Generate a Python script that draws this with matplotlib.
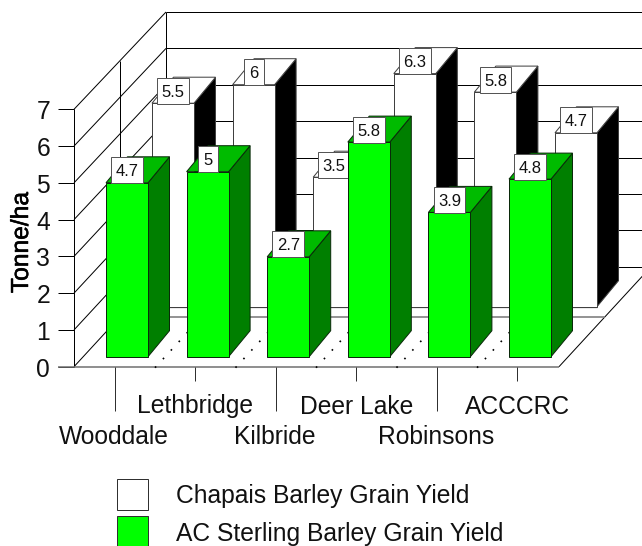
#!/usr/bin/env python3
"""Pseudo-3D grouped bar chart of barley grain yield by site."""
import matplotlib
matplotlib.use('Agg')
import matplotlib.pyplot as plt
from matplotlib.patches import Polygon, Rectangle
import matplotlib.patheffects as pe

plt.rcParams['font.family'] = ['Liberation Sans', 'DejaVu Sans']

sites = ['Wooddale', 'Lethbridge', 'Kilbride', 'Deer Lake', 'Robinsons', 'ACCCRC']
chapais = [5.5, 6, 3.5, 6.3, 5.8, 4.7]
ac_sterling = [4.7, 5, 2.7, 5.8, 3.9, 4.8]
y_ticks = [0, 1, 2, 3, 4, 5, 6, 7]
series_names = ['Chapais Barley Grain Yield', 'AC Sterling Barley Grain Yield']

# layout of the oblique projection, everything in figure pixels
FRONT_X, FRONT_Y, FRONT_UNIT = 74, 366.7, 36.77
BACK_X, BACK_Y, BACK_UNIT = 166, 266.8, 36.4
FLOOR_RIGHT = 559
WALL_RIGHT = 651
MID_X, MID_Y = 120.3, 316.7
BAR_W = 42
BAR_UNIT = 37
BAR_STEP = 80.6
DEPTH_X, DEPTH_Y = 21.5, -26
TICK_X = [114.7 + 80.5 * i for i in range(6)]
DOT_X = [155 + 80.5 * i for i in range(5)]

LINE = 0.72
FONT = 17.7


def line(ax, xs, ys, color='black', lw=LINE, **kw):
    ax.plot(xs, ys, color=color, lw=lw, solid_capstyle='butt', zorder=kw.pop('zorder', 1), **kw)


def draw_walls(ax):
    for v in y_ticks:
        front = FRONT_Y - v * FRONT_UNIT
        back = BACK_Y - v * BACK_UNIT
        line(ax, [FRONT_X - 16, FRONT_X], [front, front])
        line(ax, [FRONT_X, BACK_X], [front, back])
        line(ax, [BACK_X, WALL_RIGHT], [back, back])
        ax.text(FRONT_X - 24, front + 0.5, str(v), ha='right', va='center_baseline', fontsize=FONT, color='#111111')
    top_front = FRONT_Y - 7 * FRONT_UNIT
    top_back = BACK_Y - 7 * BACK_UNIT
    line(ax, [FRONT_X, FRONT_X], [FRONT_Y, top_front])
    line(ax, [BACK_X, BACK_X], [BACK_Y, top_back])
    line(ax, [MID_X, MID_X], [MID_Y, (top_front + top_back) / 2])

    line(ax, [FRONT_X - 16, FLOOR_RIGHT], [FRONT_Y, FRONT_Y], color='#707070', lw=1.1)
    line(ax, [FLOOR_RIGHT, WALL_RIGHT], [FRONT_Y, BACK_Y])
    line(ax, [MID_X, (FLOOR_RIGHT + WALL_RIGHT) / 2], [MID_Y, MID_Y], color='#808080', lw=1.2)

    # dotted floor lines between the sites
    for x in DOT_X:
        line(ax, [x, x + BACK_X - FRONT_X], [FRONT_Y + 1, BACK_Y + 1], lw=1.2, linestyle=(0, (1, 6)))


def draw_bar(ax, x, base, value, front, top, side, edge, z):
    y = base - value * BAR_UNIT
    r, dx, dy = x + BAR_W, DEPTH_X, DEPTH_Y
    ax.add_patch(Polygon([(r, y), (r + dx, y + dy), (r + dx, base + dy), (r, base)],
                         facecolor=side, edgecolor=edge, lw=LINE, zorder=z))
    ax.add_patch(Polygon([(x, y), (x + dx, y + dy), (r + dx, y + dy), (r, y)],
                         facecolor=top, edgecolor=edge, lw=LINE, zorder=z))
    ax.add_patch(Rectangle((x, y), BAR_W, base - y, facecolor=front, edgecolor=edge, lw=LINE, zorder=z))

    # value flag sits over the bar top, centred on the front face
    text = f'{value:g}'
    box_w = 20 if len(text) == 1 else 31.5
    cx, cy = x + BAR_W / 2, y - 12.5
    ax.add_patch(Rectangle((cx - box_w / 2, cy - 13), box_w, 26, facecolor='white',
                           edgecolor='#555555', lw=LINE, zorder=z + 0.5))
    ax.text(cx, cy, text, ha='center', va='center_baseline', fontsize=12, color='#111111', zorder=z + 0.6)


def main():
    fig = plt.figure(figsize=(6.42, 5.46), dpi=100)
    ax = fig.add_axes([0, 0, 1, 1])
    ax.set_xlim(0, 642)
    ax.set_ylim(546, 0)
    ax.axis('off')

    draw_walls(ax)

    # back row first so the green row paints over it
    back_base = 306.7
    line(ax, [152, 152 + 5 * BAR_STEP + BAR_W], [back_base, back_base], color='#606060', lw=0.9)
    for i, v in enumerate(chapais):
        draw_bar(ax, 152 + i * BAR_STEP, back_base, v, 'white', 'white', 'black', '#404040', 2 + i * 0.01)
    for i, v in enumerate(ac_sterling):
        draw_bar(ax, 106 + i * BAR_STEP, 356.7, v, '#00ff00', '#00bb00', '#007f00', '#0a2a0a', 3 + i * 0.01)

    # category ticks alternate long and short, labels staggered to match
    for i, (x, name) in enumerate(zip(TICK_X, sites)):
        long_tick = i % 2 == 0
        line(ax, [x, x], [FRONT_Y, 410.7 if long_tick else 380.5], color='#303030')
        ax.text(x - 1 if long_tick else x, 434 if long_tick else 404, name,
                ha='center', va='center_baseline', fontsize=FONT, color='#111111')

    ax.text(21, 242.5, 'Tonne/ha', rotation=90, ha='center', va='center', fontsize=FONT, color='black',
            path_effects=[pe.withStroke(linewidth=0.4, foreground='black')])

    # legend
    for y, color, name, text_y in zip([478.5, 516], ['white', '#00ff00'], series_names, [494, 532]):
        ax.add_patch(Rectangle((116.5, y), 31, 31.5, facecolor=color, edgecolor='#303030', lw=LINE, zorder=2))
        ax.text(176, text_y, name, ha='left', va='center_baseline', fontsize=FONT, color='#111111')

    fig.savefig('out.png', dpi=100)


if __name__ == '__main__':
    main()
